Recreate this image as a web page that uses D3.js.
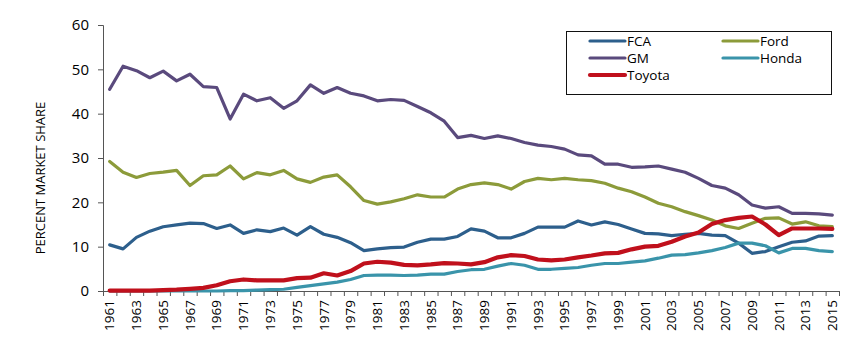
<!DOCTYPE html>
<meta charset="utf-8">
<script src="https://d3js.org/d3.v7.min.js"></script>
<style>
  body { margin: 0; background: #fff; }
  text { font-family: "Open Sans", sans-serif; fill: #000; }
  .axis path, .axis line { stroke: #555; }
  .line { fill: none; stroke-linejoin: round; stroke-linecap: round; }
</style>
<svg></svg>
<script>

// DATA

var years = d3.range(1961, 2016);

var fca = [10.4, 9.5, 12.1, 13.5, 14.5, 14.9, 15.3, 15.2, 14.1, 14.9,
  13.0, 13.8, 13.4, 14.2, 12.6, 14.5, 12.8, 12.1, 10.9, 9.1,
  9.5, 9.8, 9.9, 11.0, 11.7, 11.7, 12.3, 14.0, 13.5, 12.0,
  12.0, 13.0, 14.4, 14.4, 14.4, 15.8, 14.9, 15.6, 15.0, 14.0,
  13.0, 12.9, 12.5, 12.8, 13.0, 12.6, 12.5, 10.8, 8.5, 8.9,
  10.0, 11.0, 11.3, 12.4, 12.5];

var ford = [29.2, 26.8, 25.6, 26.5, 26.8, 27.2, 23.8, 26.0, 26.2, 28.2,
  25.3, 26.7, 26.2, 27.2, 25.3, 24.5, 25.7, 26.2, 23.5, 20.4,
  19.6, 20.1, 20.8, 21.7, 21.2, 21.2, 23.0, 24.0, 24.4, 24.0,
  23.0, 24.7, 25.4, 25.1, 25.4, 25.1, 24.9, 24.3, 23.2, 22.4,
  21.2, 19.8, 19.0, 17.9, 17.0, 16.0, 14.7, 14.1, 15.3, 16.4,
  16.5, 15.1, 15.6, 14.7, 14.5];

var gm = [45.5, 50.7, 49.7, 48.1, 49.6, 47.4, 48.9, 46.1, 45.9, 38.8,
  44.4, 42.9, 43.6, 41.2, 42.9, 46.5, 44.6, 45.9, 44.6, 44.0,
  42.9, 43.2, 43.0, 41.6, 40.2, 38.3, 34.6, 35.1, 34.4, 35.0,
  34.4, 33.5, 32.9, 32.6, 32.0, 30.7, 30.5, 28.6, 28.6, 27.9,
  28.0, 28.2, 27.5, 26.8, 25.4, 23.8, 23.2, 21.7, 19.4, 18.7,
  19.0, 17.5, 17.5, 17.4, 17.1];

var honda = [0, 0, 0, 0, 0, 0, 0, 0, 0, 0.1,
  0.1, 0.2, 0.3, 0.4, 0.8, 1.2, 1.6, 2.0, 2.6, 3.5,
  3.6, 3.6, 3.5, 3.6, 3.8, 3.8, 4.4, 4.8, 4.9, 5.6,
  6.2, 5.8, 4.9, 4.9, 5.1, 5.3, 5.8, 6.2, 6.2, 6.5,
  6.8, 7.4, 8.1, 8.2, 8.6, 9.1, 9.8, 10.8, 10.8, 10.2,
  8.6, 9.6, 9.6, 9.1, 8.9];

var toyota = [0.1, 0.1, 0.1, 0.1, 0.2, 0.3, 0.5, 0.7, 1.3, 2.2,
  2.6, 2.4, 2.4, 2.4, 2.9, 3.0, 4.0, 3.5, 4.5, 6.2,
  6.6, 6.4, 5.9, 5.8, 6.0, 6.3, 6.2, 6.0, 6.5, 7.6,
  8.1, 7.9, 7.1, 6.9, 7.1, 7.6, 8.0, 8.5, 8.6, 9.4,
  10.0, 10.2, 11.1, 12.3, 13.2, 15.1, 16.0, 16.5, 16.8, 15.0,
  12.6, 14.1, 14.1, 14.1, 14.0];

var seriesNames = ["FCA", "Ford", "GM", "Honda", "Toyota"];
var seriesValues = [fca, ford, gm, honda, toyota];
var seriesColors = ["#2d5f8c", "#8c9b3a", "#5a4a7d", "#3a94aa", "#c0101c"];
var seriesWidths = [3.2, 3.2, 3.2, 3.2, 4.2];

var yTicks = [0, 10, 20, 30, 40, 50, 60];


// GLOBALS

var width = 862;
var height = 354;

var svg = d3.select("svg")
    .attr("width", width)
    .attr("height", height);

var x = d3.scaleLinear()
    .domain([1960.5, 2015.5])
    .range([103, 839]);

var y = d3.scaleLinear()
    .domain([0, 60])
    .range([291, 25]);


// AXES

svg.append("g")
    .attr("class", "axis")
    .attr("transform", "translate(103,0)")
    .call(d3.axisLeft(y).tickValues(yTicks).tickSize(5).tickPadding(9))
    .call(function(g) { g.selectAll("text").style("font-size", "15px"); });

svg.append("g")
    .attr("class", "axis")
    .attr("transform", "translate(0,291)")
    .call(d3.axisBottom(x)
        .tickValues(d3.range(1960.5, 2016, 1))
        .tickFormat("")
        .tickSize(5)
        .tickSizeOuter(0));

svg.append("g")
    .selectAll("text")
    .data(years.filter(function(d) { return d % 2 === 1; }))
    .enter()
    .append("text")
        .attr("transform", function(d) {
            return "translate(" + x(d) + ",300) rotate(-90)";
        })
        .attr("dy", "0.35em")
        .attr("text-anchor", "end")
        .style("font-size", "13.5px")
        .text(function(d) { return d; });

svg.append("text")
    .attr("transform", "translate(40,178) rotate(-90)")
    .attr("text-anchor", "middle")
    .attr("dy", "0.35em")
    .style("font-size", "13px")
    .text("PERCENT MARKET SHARE");


// LINES

var line = d3.line()
    .x(function(d, i) { return x(years[i]); })
    .y(function(d) { return y(d); });

svg.append("g")
    .selectAll("path")
    .data(seriesValues)
    .enter()
    .append("path")
        .attr("class", "line")
        .attr("d", line)
        .attr("stroke", function(d, i) { return seriesColors[i]; })
        .attr("stroke-width", function(d, i) { return seriesWidths[i]; });


// LEGEND

var legend = svg.append("g");

legend.append("rect")
    .attr("x", 566.5)
    .attr("y", 31.5)
    .attr("width", 265)
    .attr("height", 63)
    .attr("fill", "#fff")
    .attr("stroke", "#111");

var legendPos = [[590, 41], [723, 41], [590, 58], [723, 58], [590, 75]];

var item = legend.selectAll("g.item")
    .data(seriesNames)
    .enter()
    .append("g")
        .attr("class", "item")
        .attr("transform", function(d, i) {
            return "translate(" + legendPos[i][0] + "," + legendPos[i][1] + ")";
        });

item.append("line")
    .attr("x1", 0)
    .attr("x2", 35)
    .attr("stroke", function(d, i) { return seriesColors[i]; })
    .attr("stroke-width", function(d, i) { return seriesWidths[i]; })
    .attr("stroke-linecap", "round");

item.append("text")
    .attr("x", 37)
    .attr("dy", "0.35em")
    .style("font-size", "13.5px")
    .text(function(d) { return d; });

</script>
